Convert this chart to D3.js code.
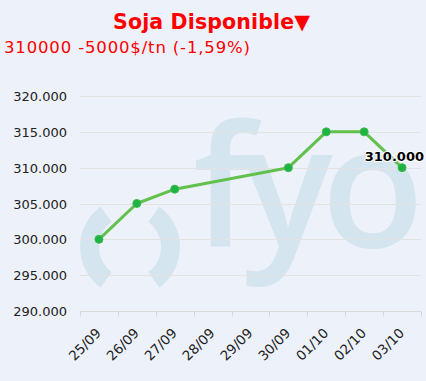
<!DOCTYPE html>
<html><head><meta charset="utf-8">
<script src="https://cdn.jsdelivr.net/npm/d3@7"></script>
<style>
html,body{margin:0;padding:0;background:#edf1fa;}
svg{display:block;}
</style></head>
<body>
<script>
const categories = ["25/09","26/09","27/09","28/09","29/09","30/09","01/10","02/10","03/10"];
const values = [300000, 305000, 307000, null, null, 310000, 315000, 315000, 310000];
const yTicks = [290000, 295000, 300000, 305000, 310000, 315000, 320000];
const titleText = "Soja Disponible\u25BC";
const subtitleText = "310000 -5000$/tn (-1,59%)";
const lastLabel = "310.000";

const W = 426, H = 381;
const plot = {left: 80, right: 421, top: 96, bottom: 311};

const svg = d3.select("body").append("svg").attr("width", W).attr("height", H);
svg.append("rect").attr("width", W).attr("height", H).attr("fill", "#edf1fa");

// watermark
const wm = svg.append("g").attr("fill", "#d5e5f0");
const arc = d3.arc().innerRadius(31).outerRadius(50);
wm.append("path").attr("transform", "translate(130,247)")
  .attr("d", arc({startAngle: -Math.PI*0.80, endAngle: -Math.PI*0.20}));
wm.append("path").attr("transform", "translate(130,247)")
  .attr("d", arc({startAngle: Math.PI*0.20, endAngle: Math.PI*0.80}));
wm.append("text").attr("x", 193).attr("y", 247)
  .attr("font-family", "'Open Sans', sans-serif").attr("font-size", 168).attr("font-weight", 600)
  .attr("textLength", 231).attr("lengthAdjust", "spacing")
  .text("fyo");

const x = d3.scaleBand().domain(categories).range([plot.left, plot.right]);
const y = d3.scaleLinear().domain([290000, 320000]).range([plot.bottom, plot.top]);

// grid
svg.append("g").selectAll("line").data(yTicks.slice(1)).join("line")
  .attr("x1", plot.left).attr("x2", plot.right)
  .attr("y1", d => Math.round(y(d)) + 0.5).attr("y2", d => Math.round(y(d)) + 0.5)
  .attr("stroke", "#e3e3e3").attr("stroke-width", 1);

// y labels
svg.append("g").selectAll("text").data(yTicks).join("text")
  .attr("x", 67).attr("y", d => y(d) + 5)
  .attr("text-anchor", "end")
  .attr("font-family", "'DejaVu Sans', sans-serif").attr("font-size", 13)
  .attr("fill", "#222")
  .text(d => d3.format(",")(d).replace(/,/g, "."));

// x axis
const xAxis = d3.axisBottom(x).tickSize(0).tickFormat("");
const gx = svg.append("g").attr("transform", `translate(0,${Math.round(plot.bottom)+0.5})`).call(xAxis);
gx.select(".domain").attr("stroke", "#d8d8d8").attr("d", `M${plot.left},0H${plot.right}`);
const bounds = categories.map(c => x(c)).concat([plot.right]);
gx.selectAll("line.tk").data(bounds).join("line").attr("class", "tk")
  .attr("x1", d => Math.round(d) + 0.5).attr("x2", d => Math.round(d) + 0.5)
  .attr("y1", 0).attr("y2", 5).attr("stroke", "#d8d8d8");

svg.append("g").selectAll("text").data(categories).join("text")
  .attr("transform", d => `translate(${x(d) + x.bandwidth()/2 + 3},${plot.bottom + 23}) rotate(-45)`)
  .attr("text-anchor", "end")
  .attr("font-family", "'DejaVu Sans', sans-serif").attr("font-size", 13.5)
  .attr("fill", "#222")
  .text(d => d);

// line
const pts = categories.map((c, i) => ({c, v: values[i]})).filter(d => d.v != null);
const line = d3.line().x(d => x(d.c) + x.bandwidth()/2).y(d => y(d.v));
svg.append("path").datum(pts).attr("d", line)
  .attr("fill", "none").attr("stroke", "#62c14c").attr("stroke-width", 3)
  .attr("stroke-linejoin", "round").attr("stroke-linecap", "round");
svg.append("g").selectAll("circle").data(pts).join("circle")
  .attr("cx", d => x(d.c) + x.bandwidth()/2).attr("cy", d => y(d.v))
  .attr("r", 4).attr("fill", "#1fb244").attr("stroke", "#3cbc4a").attr("stroke-width", 1);

// last label
const last = pts[pts.length - 1];
const lbl = svg.append("text")
  .attr("font-family", "'DejaVu Sans', sans-serif").attr("font-size", 13).attr("font-weight", "bold")
  .attr("fill", "#000").attr("stroke", "#fff").attr("stroke-width", 2).attr("paint-order", "stroke")
  .attr("stroke-linejoin", "round")
  .attr("text-anchor", "middle")
  .text(lastLabel);
const lw = lbl.node().getComputedTextLength();
const lx = Math.min(x(last.c) + x.bandwidth()/2, 424 - lw/2);
lbl.attr("x", lx).attr("y", y(last.v) - 7);

// titles
svg.append("text").attr("x", 113).attr("y", 29)
  .attr("font-family", "'DejaVu Sans', sans-serif").attr("font-size", 20.5).attr("font-weight", "bold")
  .attr("textLength", 197).attr("lengthAdjust", "spacing")
  .attr("fill", "#ff0000").text(titleText);
svg.append("text").attr("x", 4).attr("y", 53)
  .attr("font-family", "'DejaVu Sans', sans-serif").attr("font-size", 16.5)
  .attr("textLength", 246).attr("lengthAdjust", "spacing")
  .attr("fill", "#ff0000").text(subtitleText);
</script>
</body></html>
